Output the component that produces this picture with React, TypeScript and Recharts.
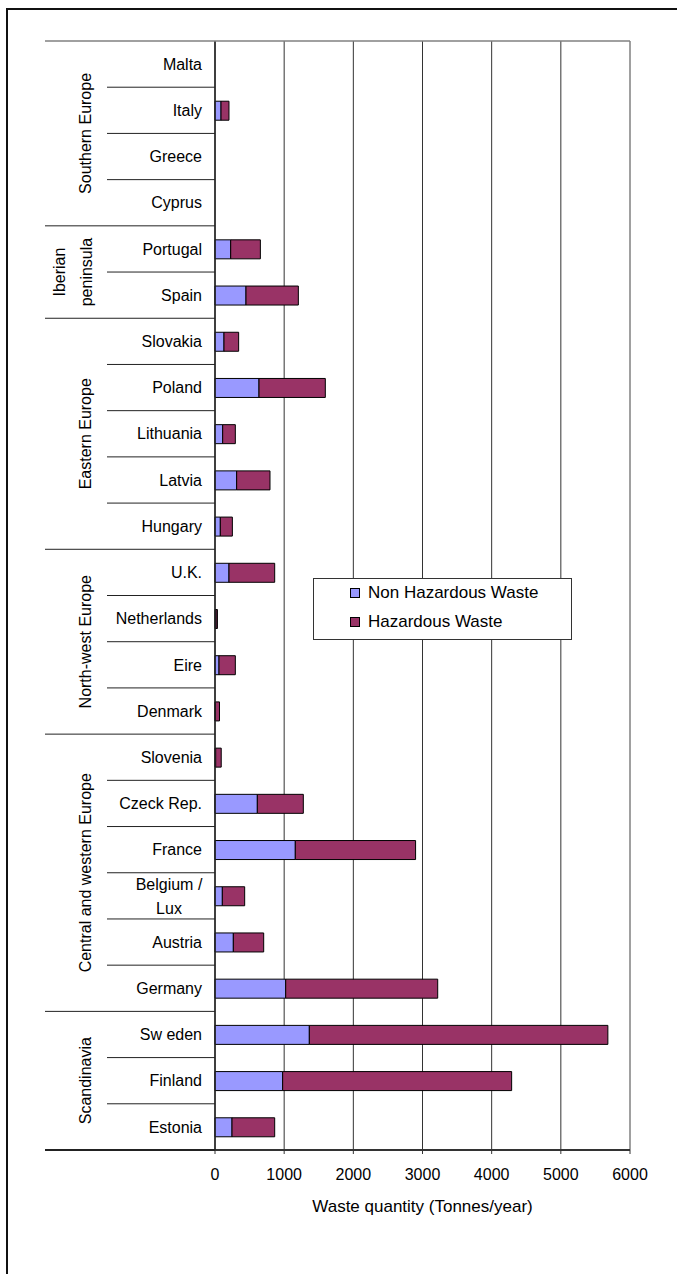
import { BarChart, Bar, XAxis, YAxis, CartesianGrid, Legend } from 'recharts';

// Annual waste quantities by country (tonnes/year), top row first
const countries = [
  'Malta', 'Italy', 'Greece', 'Cyprus',
  'Portugal', 'Spain',
  'Slovakia', 'Poland', 'Lithuania', 'Latvia', 'Hungary',
  'U.K.', 'Netherlands', 'Eire', 'Denmark',
  'Slovenia', 'Czeck Rep.', 'France', 'Belgium /\nLux', 'Austria', 'Germany',
  'Sw eden', 'Finland', 'Estonia',
];
const nonHazardous = [
  0, 87, 0, 0,
  227, 448,
  130, 636, 111, 313, 77,
  202, 15, 58, 5,
  10, 612, 1161, 106, 265, 1022,
  1364, 978, 246,
];
const hazardous = [
  0, 115, 0, 0,
  429, 757,
  212, 959, 183, 482, 174,
  661, 20, 236, 60,
  80, 665, 1739, 323, 439, 2198,
  4316, 3311, 617,
];

const seriesNames = ['Non Hazardous Waste', 'Hazardous Waste'];

const regionNames = [
  ['Southern Europe'],
  ['Iberian', 'peninsula'],
  ['Eastern Europe'],
  ['North-west Europe'],
  ['Central and western Europe'],
  ['Scandinavia'],
];
const regionSizes = [4, 2, 5, 4, 6, 3];

const xTicks = [0, 1000, 2000, 3000, 4000, 5000, 6000];

const data = countries.map((country, i) => ({
  country,
  nonHazardous: nonHazardous[i],
  hazardous: hazardous[i],
}));

// layout
const W = 677;
const H = 1274;
const PLOT_LEFT = 215;
const PLOT_RIGHT = 630;
const PLOT_TOP = 41;
const PLOT_BOTTOM = 1150;
const OUTER_LEFT = 45;
const INNER_LEFT = 107;
const X_AXIS_H = 80;
const ROW_H = (PLOT_BOTTOM - PLOT_TOP) / countries.length;
const FONT = '"Liberation Sans", Arial, sans-serif';

const regionStarts: number[] = [];
const regionEnds: number[] = [];
regionSizes.reduce((start, size) => {
  regionStarts.push(start);
  regionEnds.push(start + size - 1);
  return start + size;
}, 0);

const CountryTick = (props: any) => {
  const { index, payload } = props;
  const y = payload.coordinate;
  const lines = String(payload.value).split('\n');
  const bottom = y + ROW_H / 2;
  const isRegionEnd = regionEnds.includes(index);
  const r = regionStarts.indexOf(index);
  let region = null;
  if (r >= 0) {
    const cy = y - ROW_H / 2 + (regionSizes[r] * ROW_H) / 2;
    const names = regionNames[r];
    region = names.map((name, k) => {
      const cx = names.length === 1 ? 85 : 59.5 + k * 26.5;
      return (
        <text
          key={name}
          x={cx}
          y={cy}
          dy={5.7}
          transform={`rotate(-90 ${cx} ${cy})`}
          textAnchor="middle"
          fontSize={16}
          fill="#000"
        >
          {name}
        </text>
      );
    });
  }
  return (
    <g>
      {index === 0 && (
        <line x1={OUTER_LEFT} x2={PLOT_RIGHT} y1={y - ROW_H / 2} y2={y - ROW_H / 2} stroke="#808080" strokeWidth={1.5} />
      )}
      {lines.map((line, k) => (
        <text
          key={line}
          x={lines.length === 1 ? 202 : 169}
          y={y + (k - (lines.length - 1) / 2) * 24}
          dy={5.7}
          textAnchor={lines.length === 1 ? 'end' : 'middle'}
          fontSize={16}
          fill="#000"
        >
          {line}
        </text>
      ))}
      <line
        x1={isRegionEnd ? OUTER_LEFT : INNER_LEFT}
        x2={PLOT_LEFT}
        y1={bottom}
        y2={bottom}
        stroke="#222"
        strokeWidth={isRegionEnd && index === countries.length - 1 ? 2 : 1}
      />
      {region}
    </g>
  );
};

const GridLine = (props: any) => {
  const { x1, x2, y1, y2 } = props;
  const edge = x1 >= PLOT_RIGHT - 1;
  return (
    <line
      x1={x1}
      x2={x2}
      y1={y1}
      y2={y2}
      stroke={edge ? '#808080' : '#333'}
      strokeWidth={edge ? 1.5 : 1}
    />
  );
};

const LegendBox = ({ payload }: any) => {
  const items = [...(payload || [])].sort(
    (a: any, b: any) => seriesNames.indexOf(a.value) - seriesNames.indexOf(b.value),
  );
  return (
    <div
      style={{
        position: 'relative',
        width: 259,
        height: 62,
        border: '1px solid #333',
        background: '#fff',
        boxSizing: 'border-box',
        fontFamily: FONT,
        fontSize: 17,
        color: '#000',
      }}
    >
      {items.map((item: any, i: number) => (
        <div key={item.value} style={{ position: 'absolute', left: 36, top: 4 + i * 29, height: 20, display: 'flex', alignItems: 'center' }}>
          <span
            style={{
              display: 'inline-block',
              width: 8,
              height: 8,
              background: item.color,
              border: '1px solid #000',
              marginRight: 8,
            }}
          />
          <span style={{ lineHeight: '20px' }}>{item.value}</span>
        </div>
      ))}
    </div>
  );
};

export default function App() {
  return (
    <div style={{ position: 'absolute', left: 0, top: 0, width: W, height: H, overflow: 'hidden', background: '#fff', fontFamily: FONT }}>
      <div
        style={{
          position: 'absolute',
          left: 6,
          top: 8,
          width: 800,
          height: 1400,
          borderTop: '2px solid #111',
          borderLeft: '2px solid #111',
        }}
      />
      <div style={{ position: 'absolute', left: 0, top: 0 }}>
        <BarChart
          width={W}
          height={H}
          data={data}
          layout="vertical"
          barSize={19}
          margin={{ top: PLOT_TOP, right: W - PLOT_RIGHT, bottom: H - PLOT_BOTTOM - X_AXIS_H, left: OUTER_LEFT }}
        >
          <CartesianGrid horizontal={false} vertical={GridLine} />
          <XAxis
            type="number"
            domain={[0, 6000]}
            ticks={xTicks}
            interval={0}
            height={X_AXIS_H}
            tickSize={4}
            tickMargin={15}
            tickLine={{ stroke: '#333' }}
            axisLine={{ stroke: '#333', strokeWidth: 2 }}
            tick={{ fill: '#000', fontSize: 16 }}
            label={{ value: 'Waste quantity (Tonnes/year)', position: 'insideBottom', offset: 18, fill: '#000', fontSize: 17 }}
          />
          <YAxis
            type="category"
            dataKey="country"
            width={PLOT_LEFT - OUTER_LEFT}
            interval={0}
            tickLine={false}
            axisLine={{ stroke: '#222', strokeWidth: 1.5 }}
            tick={<CountryTick />}
          />
          <Legend
            layout="horizontal"
            verticalAlign="middle"
            align="center"
            content={<LegendBox />}
            wrapperStyle={{ left: 313, top: 578, width: 259, height: 62 }}
          />
          <Bar dataKey="nonHazardous" name={seriesNames[0]} stackId="w" fill="#9999FF" stroke="#000" strokeWidth={1} isAnimationActive={false} />
          <Bar dataKey="hazardous" name={seriesNames[1]} stackId="w" fill="#993366" stroke="#000" strokeWidth={1} isAnimationActive={false} />
        </BarChart>
      </div>
    </div>
  );
}
